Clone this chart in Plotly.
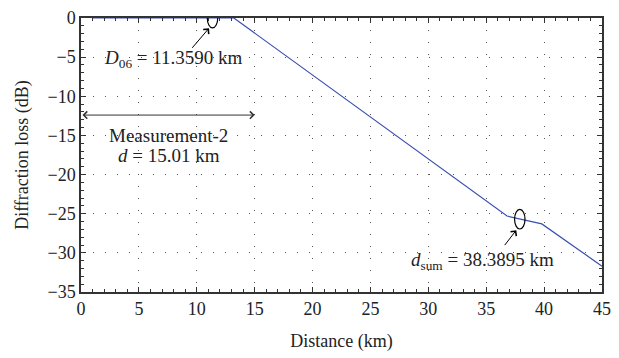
import plotly.graph_objects as go

# Data
distance_km = [1.0, 13.2, 36.8, 39.8, 45.0]
loss_db = [0.0, 0.0, -25.3, -26.3, -31.7]

marker_x = [11.359, 37.9]
marker_y = [0.0, -25.7]

x_ticks = [0, 5, 10, 15, 20, 25, 30, 35, 40, 45]
y_ticks = [0, -5, -10, -15, -20, -25, -30, -35]

FONT = "Liberation Serif"
TXT = "#222"

fig = go.Figure()
fig.add_trace(go.Scatter(x=distance_km, y=loss_db, mode="lines",
                         line=dict(color="#3a4fb0", width=1.2), showlegend=False))

# ellipses around the key points
for cx, cy in zip(marker_x, marker_y):
    fig.add_shape(type="circle", xref="x", yref="y",
                  x0=cx - 0.45, x1=cx + 0.45, y0=cy - 1.25, y1=cy + 1.25,
                  line=dict(color="black", width=1.2))

ann = []
# D06 arrow + text
ann.append(dict(x=marker_x[0] - 0.3, y=marker_y[0] - 1.3, ax=9.5, ay=-4.0,
                xref="x", yref="y", axref="x", ayref="y",
                showarrow=True, arrowhead=4, arrowsize=1.4, arrowwidth=1, arrowcolor="black", text=""))
ann.append(dict(x=8.0, y=-5.3, xref="x", yref="y", showarrow=False,
                text="<i>D</i><sub>06</sub> = 11.3590 km",
                font=dict(family=FONT, size=19, color=TXT)))
# Measurement double arrow
ann.append(dict(x=15.0, y=-12.4, ax=0.0, ay=-12.4,
                xref="x", yref="y", axref="x", ayref="y",
                showarrow=True, arrowhead=4, startarrowhead=4, arrowside="end+start",
                arrowsize=1.4, startarrowsize=1.4, arrowwidth=1, arrowcolor="#333", text=""))
ann.append(dict(x=7.6, y=-15.0, xref="x", yref="y", showarrow=False,
                text="Measurement-2", font=dict(family=FONT, size=19, color=TXT)))
ann.append(dict(x=7.6, y=-17.6, xref="x", yref="y", showarrow=False,
                text="<i>d</i> = 15.01 km", font=dict(family=FONT, size=19, color=TXT)))
# dsum arrow + text
ann.append(dict(x=marker_x[1] - 0.3, y=marker_y[1] - 1.4, ax=36.5, ay=-29.2,
                xref="x", yref="y", axref="x", ayref="y",
                showarrow=True, arrowhead=4, arrowsize=1.4, arrowwidth=1, arrowcolor="black", text=""))
ann.append(dict(x=34.7, y=-31.1, xref="x", yref="y", showarrow=False,
                text="<i>d</i><sub>sum</sub> = 38.3895 km",
                font=dict(family=FONT, size=19, color=TXT)))

fig.update_layout(
    width=619, height=358,
    margin=dict(l=81, r=8, t=12, b=66),
    paper_bgcolor="white", plot_bgcolor="white",
    font=dict(family=FONT, size=18, color=TXT),
    annotations=ann,
)
common = dict(showline=True, linecolor="#333", linewidth=1.5, mirror="ticks",
              ticks="inside", ticklen=5, tickcolor="#333",
              showgrid=True, gridcolor="#555", griddash="1px,11px", gridwidth=1,
              zeroline=False,
              tickfont=dict(family=FONT, size=18, color=TXT))
fig.update_xaxes(range=[0, 45], tickvals=x_ticks, **common,
                 minor=dict(ticks="inside", ticklen=3, tickcolor="#333", dtick=1, showgrid=False),
                 title=dict(text="Distance (km)", font=dict(family=FONT, size=18, color=TXT), standoff=16))
fig.update_yaxes(range=[-35, 0], tickvals=y_ticks, **common,
                 ticktext=["0" if v == 0 else "\u2212" + str(-v) for v in y_ticks],
                 minor=dict(ticks="inside", ticklen=3, tickcolor="#333", dtick=1, showgrid=False),
                 title=dict(text="Diffraction loss (dB)", font=dict(family=FONT, size=18, color=TXT), standoff=14))

fig.write_html("out.html")
